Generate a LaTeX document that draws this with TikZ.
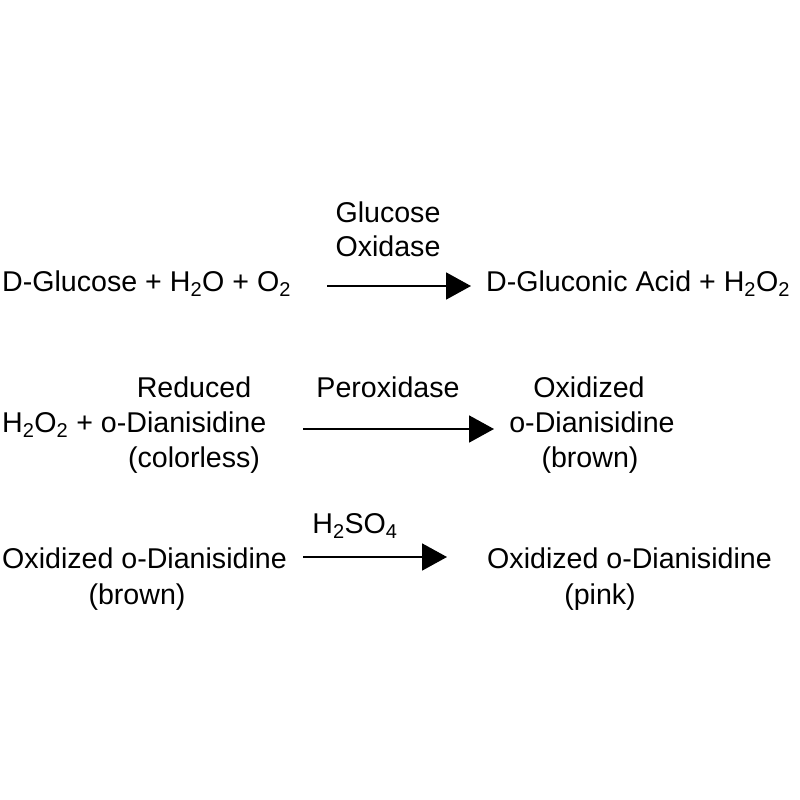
\documentclass[tikz,border=0pt]{standalone}
\usepackage{fontspec}
\setmainfont{Liberation Sans}
\usepackage{tikz}
\usetikzlibrary{arrows.meta}
\newcommand{\Sb}[1]{\textsubscript{#1}}
\tikzstyle{ChemText}=[inner sep=0pt,font=\fontsize{28.6}{32}\selectfont]
\tikzstyle{ReactArrow}=[line width=1.9pt,-{Triangle[length=25pt,width=27pt]}]

\begin{document}
\begin{tikzpicture}[x=1pt,y=-1pt]
        \useasboundingbox(0,0)rectangle(800,800);
        % first reaction
        \node[ChemText,anchor=base west](glc)at(2,291){D-Glucose + H\Sb{2}O + O\Sb{2}};
        \node[ChemText,anchor=base](gox1)at(388,222){Glucose};
        \node[ChemText,anchor=base](gox2)at(388,256){Oxidase};
        \node[ChemText,anchor=base west](gla)at(486,291){D-Gluconic Acid + H\Sb{2}O\Sb{2}};
        \coordinate(s1)at(327,286);
        \coordinate(e1)at(471,286);
        \draw[ReactArrow](s1)--(e1);
        % second reaction
        \node[ChemText,anchor=base](red)at(194,397){Reduced};
        \node[ChemText,anchor=base west](hod)at(2,432){H\Sb{2}O\Sb{2} + o-Dianisidine};
        \node[ChemText,anchor=base](col)at(194,467){(colorless)};
        \node[ChemText,anchor=base](pox)at(388,397){Peroxidase};
        \node[ChemText,anchor=base](ox1)at(589,397){Oxidized};
        \node[ChemText,anchor=base](ox2)at(592,432){o-Dianisidine};
        \node[ChemText,anchor=base](ox3)at(590,467){(brown)};
        \coordinate(s2)at(303,429);
        \coordinate(e2)at(494,429);
        \draw[ReactArrow](s2)--(e2);
        % third reaction
        \node[ChemText,anchor=base west](odb)at(2,568){Oxidized o-Dianisidine};
        \node[ChemText,anchor=base](brn)at(137,604){(brown)};
        \node[ChemText,anchor=base](acid)at(355,533){H\Sb{2}SO\Sb{4}};
        \node[ChemText,anchor=base west](odp)at(487,568){Oxidized o-Dianisidine};
        \node[ChemText,anchor=base](pnk)at(600,604){(pink)};
        \coordinate(s3)at(303,557);
        \coordinate(e3)at(447,557);
        \draw[ReactArrow](s3)--(e3);
    \end{tikzpicture}
\end{document}
